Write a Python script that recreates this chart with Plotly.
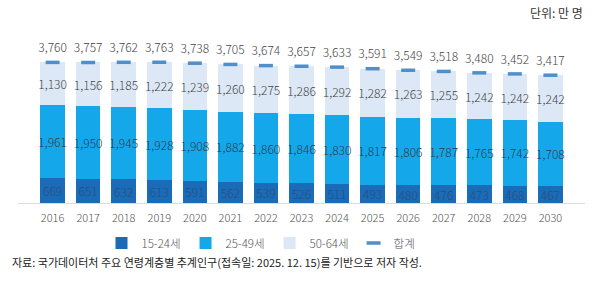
import plotly.graph_objects as go

years = [str(y) for y in range(2016, 2031)]
age_15_24 = [669, 651, 632, 613, 591, 562, 539, 526, 511, 493, 480, 476, 473, 468, 467]
age_25_49 = [1961, 1950, 1945, 1928, 1908, 1882, 1860, 1846, 1830, 1817, 1806, 1787, 1765, 1742, 1708]
age_50_64 = [1130, 1156, 1185, 1222, 1239, 1260, 1275, 1286, 1292, 1282, 1263, 1255, 1242, 1242, 1242]
totals = [3760, 3757, 3762, 3763, 3738, 3705, 3674, 3657, 3633, 3591, 3549, 3518, 3480, 3452, 3417]

FONT = "Noto Sans CJK KR"
W = 300
C_DARK = "#1a6bb8"
C_MID = "#14a8ea"
C_LIGHT = "#dce8f5"
C_TOTAL = "#4f8fcc"

fig = go.Figure()

def add_bar(name, vals, color, tcolor):
    fig.add_trace(go.Bar(
        x=years, y=vals, name=name,
        marker=dict(color=color, line=dict(width=0)),
        text=[f"{v:,}" for v in vals],
        textposition="inside", insidetextanchor="middle",
        textangle=0, constraintext="none",
        textfont=dict(family=FONT, size=12, color=tcolor, weight=W),
        hoverinfo="skip",
    ))

add_bar("15-24세", age_15_24, C_DARK, "#2a4f7a")
add_bar("25-49세", age_25_49, C_MID, "#2f3c4a")
add_bar("50-64세", age_50_64, C_LIGHT, "#444444")

fig.add_trace(go.Scatter(
    x=years, y=totals, name="합계", mode="markers+text",
    marker=dict(symbol="line-ew", size=10, color=C_TOTAL,
                line=dict(width=3.5, color=C_TOTAL)),
    text=[f"{v:,}" for v in totals],
    textposition="top center",
    textfont=dict(family=FONT, size=12, color="#444444", weight=W),
    hoverinfo="skip",
))

L, R, T, B = 18, 15, 16, 91
PW = 600 - L - R
PH = 294 - T - B

fig.update_layout(
    width=600, height=294,
    margin=dict(l=L, r=R, t=T, b=B, pad=0),
    barmode="stack", bargap=0.31,
    plot_bgcolor="white", paper_bgcolor="white",
    font=dict(family=FONT, size=12, color="#555555", weight=W),
    showlegend=True,
    legend=dict(
        orientation="h", x=(261 - L) / PW, xanchor="center",
        y=-(243 - 203) / PH, yanchor="middle",
        font=dict(family=FONT, size=11.5, color="#555555", weight=W),
        itemwidth=30, traceorder="normal", tracegroupgap=0,
        bgcolor="rgba(0,0,0,0)",
    ),
    xaxis=dict(
        type="category", showgrid=False, showline=True,
        linecolor="#dcdcdc", linewidth=1, ticks="",
        ticklabelstandoff=5,
        tickfont=dict(family=FONT, size=11, color="#555555", weight=W),
        fixedrange=True,
    ),
    yaxis=dict(
        range=[0, 5000], visible=False, showgrid=False, fixedrange=True,
    ),
    annotations=[
        dict(text="단위: 만 명", xref="paper", yref="paper",
             x=1.0, y=(203 - 13) / PH, xanchor="right", yanchor="middle",
             showarrow=False, font=dict(family=FONT, size=12, color="#333333", weight=400)),
        dict(text="자료: 국가데이터처 주요 연령계층별 추계인구(접속일: 2025. 12. 15)를 기반으로 저자 작성.",
             xref="paper", yref="paper",
             x=-8 / PW, y=-(262 - 203) / PH, xanchor="left", yanchor="middle",
             showarrow=False, font=dict(family=FONT, size=11, color="#222222", weight=400)),
    ],
)

fig.write_html("out.html")
